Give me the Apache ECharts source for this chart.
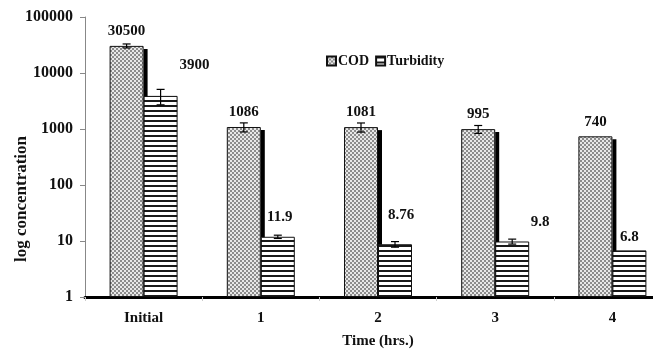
<!DOCTYPE html>
<html>
<head>
<meta charset="utf-8">
<script src="https://cdn.jsdelivr.net/npm/echarts@6/dist/echarts.min.js"></script>
<style>html,body{margin:0;padding:0;background:#fff;}#c{width:653px;height:351px;}</style>
</head>
<body>
<div id="c"></div>
<script>
// ---- data ----
const categories = ['Initial', '1', '2', '3', '4'];
const codValues = [30500, 1086, 1081, 995, 740];
const codErrors = [2500, 200, 200, 160, 0];
const turbidityValues = [3900, 11.9, 8.76, 9.8, 6.8];
const turbidityErrors = [1200, 0.8, 1.0, 1.0, 0];
const yTickLabels = ['1', '10', '100', '1000', '10000', '100000'];
// label offsets for turbidity labels (style config, not data)
const turbLabelOffsets = [[34, -18], [2, -7], [6, -17], [28, -7], [0, -1]];

const FONT = 'Liberation Serif';

function checker() {
  const c = document.createElement('canvas');
  c.width = 4; c.height = 4;
  const g = c.getContext('2d');
  g.fillStyle = '#e8e8e8'; g.fillRect(0, 0, 4, 4);
  g.fillStyle = '#8c8c8c'; g.fillRect(0, 0, 2, 2); g.fillRect(2, 2, 2, 2);
  return c;
}
function stripes() {
  const c = document.createElement('canvas');
  c.width = 5; c.height = 5;
  const g = c.getContext('2d');
  g.fillStyle = '#ffffff'; g.fillRect(0, 0, 5, 5);
  g.fillStyle = '#1a1a1a'; g.fillRect(0, 0, 5, 2);
  return c;
}

const BAR_W = 34;
const chart = echarts.init(document.getElementById('c'), null, {renderer: 'canvas'});

function errorSeries(name, values, errors, side) {
  return {
    type: 'custom',
    name: name + ' err',
    z: 10,
    silent: true,
    data: values.map((v, i) => [i, v, errors[i]]),
    renderItem: function (params, api) {
      const i = api.value(0), v = api.value(1), e = api.value(2);
      if (!e) return null;
      const top = api.coord([i, v + e]);
      const bot = api.coord([i, Math.max(v - e, 1e-6)]);
      const x = top[0] + side * BAR_W / 2;
      const cap = 4;
      const st = {stroke: '#000', lineWidth: 1.2};
      return {
        type: 'group',
        children: [
          {type: 'line', shape: {x1: x, y1: top[1], x2: x, y2: bot[1]}, style: st},
          {type: 'line', shape: {x1: x - cap, y1: top[1], x2: x + cap, y2: top[1]}, style: st},
          {type: 'line', shape: {x1: x - cap, y1: bot[1], x2: x + cap, y2: bot[1]}, style: st}
        ]
      };
    }
  };
}

// dark edge at the right of each COD bar (drawn from the COD values)
const codShadowSeries = {
  type: 'custom',
  name: 'COD shadow',
  z: 2,
  silent: true,
  data: codValues.map((v, i) => [i, v]),
  renderItem: function (params, api) {
    const i = api.value(0), v = api.value(1);
    const top = api.coord([i, v]);
    const bot = api.coord([i, 1]);
    return {
      type: 'rect',
      shape: {x: top[0], y: top[1] + 3, width: 4, height: bot[1] - top[1] - 3},
      style: {fill: '#000'}
    };
  }
};

const labelStyle = {fontFamily: FONT, fontWeight: 'bold', fontSize: 15, color: '#111'};

chart.setOption({
  animation: false,
  backgroundColor: '#fff',
  grid: {left: 85, top: 17, bottom: 54, width: 586, containLabel: false, outerBoundsMode: 'none'},
  legend: {
    data: ['COD', 'Turbidity'],
    left: 321, top: 49,
    icon: 'rect', itemWidth: 9, itemHeight: 9, itemGap: 6,
    textStyle: {fontFamily: FONT, fontWeight: 'bold', fontSize: 14, color: '#111', padding: [0, 0, 0, -3]}
  },
  xAxis: {
    type: 'category',
    data: categories,
    name: 'Time (hrs.)',
    nameLocation: 'middle',
    nameGap: 37,
    nameTextStyle: {fontFamily: FONT, fontWeight: 'bold', fontSize: 15, color: '#111'},
    axisLine: {lineStyle: {color: '#000', width: 3}},
    axisTick: {show: true, length: 4, lineStyle: {color: '#ccc'}},
    axisLabel: {fontFamily: FONT, fontWeight: 'bold', fontSize: 15, color: '#111', margin: 14, interval: 0}
  },
  yAxis: {
    type: 'log',
    logBase: 10,
    min: 1,
    max: 100000,
    name: 'log concentration',
    nameLocation: 'middle',
    nameGap: 55,
    nameMoveOverlap: false,
    nameTextStyle: {fontFamily: FONT, fontWeight: 'bold', fontSize: 17, color: '#111', padding: [0, 84, 0, 0]},
    axisLine: {show: true, lineStyle: {color: '#888', width: 1}},
    axisTick: {show: true, length: 5, lineStyle: {color: '#888'}},
    splitLine: {show: false},
    axisLabel: {
      fontFamily: FONT, fontWeight: 'bold', fontSize: 16, color: '#111', margin: 12,
      formatter: function (v) {
        const k = Math.round(Math.log10(v));
        return yTickLabels[k] !== undefined ? yTickLabels[k] : '';
      }
    }
  },
  series: [
    {
      name: 'COD',
      type: 'bar',
      barWidth: BAR_W,
      barGap: '0%',
      z: 2,
      itemStyle: {
        color: {image: checker(), repeat: 'repeat'},
        borderColor: '#111', borderWidth: 1
      },
      label: {show: true, position: 'top', distance: 7, ...labelStyle},
      data: codValues
    },
    {
      name: 'Turbidity',
      type: 'bar',
      barWidth: BAR_W,
      z: 3,
      itemStyle: {
        color: {image: stripes(), repeat: 'repeat'},
        borderColor: '#111', borderWidth: 1
      },
      label: {show: true, position: 'top', distance: 5, ...labelStyle},
      data: turbidityValues.map((v, i) => ({value: v, label: {offset: turbLabelOffsets[i]}}))
    },
    codShadowSeries,
    errorSeries('COD', codValues, codErrors, -1),
    errorSeries('Turbidity', turbidityValues, turbidityErrors, 1)
  ]
});
</script>
</body>
</html>
